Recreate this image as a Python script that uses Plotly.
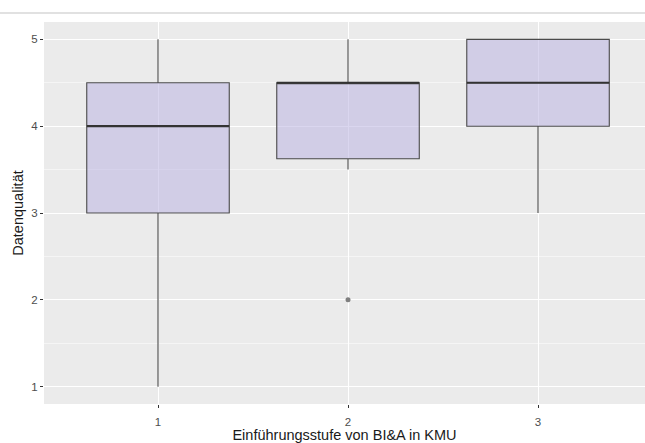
import plotly.graph_objects as go

# Data
stufen = [1, 2, 3]
q1 = [3.0, 3.625, 4.0]
median = [4.0, 4.5, 4.5]
q3 = [4.5, 4.5, 5.0]
lower = [1.0, 3.5, 3.0]
upper = [5.0, 5.0, 5.0]
outlier_x = [2]
outlier_y = [2.0]
y_ticks = [1, 2, 3, 4, 5]
box_width = 0.75

fill = "rgba(188,180,225,0.55)"
line_col = "#4a4a4a"

fig = go.Figure()
fig.add_trace(go.Box(
    x=stufen, q1=q1, median=median, q3=q3,
    lowerfence=lower, upperfence=upper,
    width=box_width, whiskerwidth=0,
    fillcolor=fill, line=dict(color=line_col, width=1.1),
    boxpoints=False, showlegend=False, hoverinfo="skip",
))
# thicker median lines as in ggplot
for xi, m in zip(stufen, median):
    fig.add_trace(go.Scatter(
        x=[xi - box_width / 2, xi + box_width / 2], y=[m, m],
        mode="lines", line=dict(color="#333333", width=2.2),
        showlegend=False, hoverinfo="skip",
    ))
fig.add_trace(go.Scatter(
    x=outlier_x, y=outlier_y, mode="markers",
    marker=dict(color="#7f7f7f", size=5, line=dict(width=0)),
    showlegend=False, hoverinfo="skip",
))

axis_font = dict(family="Liberation Sans, Arial, sans-serif", size=11.5, color="#4d4d4d")
title_font = dict(family="Liberation Sans, Arial, sans-serif", size=14.5, color="#1a1a1a")

fig.update_layout(
    width=645, height=443,
    margin=dict(l=44, r=0, t=22, b=39),
    paper_bgcolor="white", plot_bgcolor="#EBEBEB",
    font=dict(family="Liberation Sans, Arial, sans-serif"),
    xaxis=dict(
        range=[0.4, 3.563], tickvals=stufen, ticktext=[str(s) for s in stufen],
        showgrid=True, gridcolor="white", gridwidth=1.1, zeroline=False,
        ticks="outside", ticklen=3, tickcolor="#333333", tickwidth=1,
        tickfont=axis_font, ticklabelstandoff=4,
        title=dict(text="Einführungsstufe von BI&A in KMU", font=title_font, standoff=0),
    ),
    yaxis=dict(
        range=[0.8, 5.2], tickvals=y_ticks,
        showgrid=True, gridcolor="white", gridwidth=1.1, zeroline=False,
        minor=dict(dtick=0.5, tick0=0.5, showgrid=True, gridcolor="#F5F5F5", gridwidth=0.6, ticks=""),
        ticks="outside", ticklen=3, tickcolor="#333333", tickwidth=1,
        tickfont=axis_font,
        title=dict(text="Datenqualität", font=title_font, standoff=4),
    ),
    shapes=[dict(type="line", xref="paper", yref="paper",
                 x0=-0.1, x1=1.0, y0=1.0236, y1=1.0236,
                 line=dict(color="#c4c4c4", width=1.2))],
)

fig.write_html("out.html")
